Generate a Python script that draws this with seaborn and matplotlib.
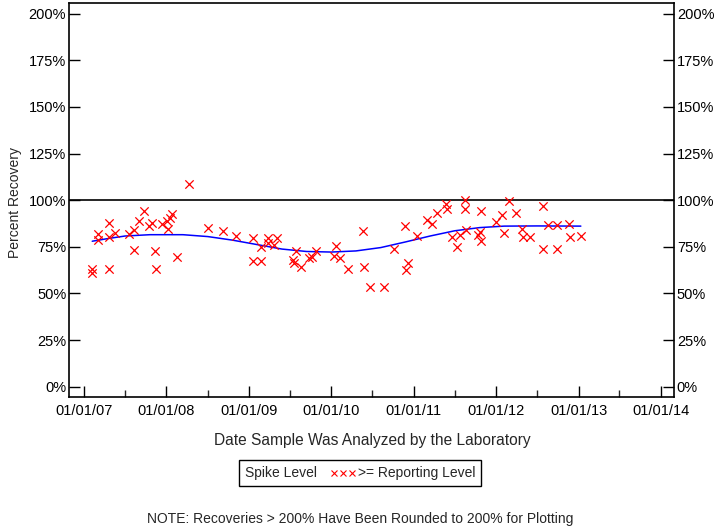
import pandas as pd
import matplotlib
matplotlib.use("Agg")
import matplotlib.pyplot as plt
import matplotlib.dates as mdates
from matplotlib.lines import Line2D
from matplotlib.offsetbox import TextArea, DrawingArea, HPacker, AnchoredOffsetbox
import seaborn as sns

# Spike recoveries
sample_dates = [
    "2007-02-06", "2007-02-07", "2007-03-04", "2007-03-02", "2007-04-20", "2007-04-23",
    "2007-04-21", "2007-05-16", "2007-07-17", "2007-08-08", "2007-08-11", "2007-09-02",
    "2007-09-24", "2007-10-16", "2007-10-30", "2007-11-13", "2007-11-14", "2007-12-13",
    "2008-01-05", "2008-01-06", "2008-01-15", "2008-01-26", "2008-02-17", "2008-04-12",
    "2008-07-05", "2008-09-09", "2008-11-06", "2009-01-19", "2009-01-20", "2009-02-24",
    "2009-02-25", "2009-03-25", "2009-03-26", "2009-05-05", "2009-04-23", "2009-07-13",
    "2009-07-20", "2009-07-27", "2009-08-18", "2009-09-24", "2009-10-08", "2009-10-26",
    "2010-01-12", "2010-01-23", "2010-02-10", "2010-03-15", "2010-05-23", "2010-05-24",
    "2010-06-21", "2010-08-22", "2010-10-05", "2010-11-25", "2010-12-06", "2010-11-26",
    "2011-01-15", "2011-02-28", "2011-03-25", "2011-04-16", "2011-05-26", "2011-05-27",
    "2011-06-21", "2011-07-13", "2011-07-24", "2011-08-15", "2011-08-16", "2011-08-19",
    "2011-10-12", "2011-10-23", "2011-10-27", "2011-10-26", "2012-01-01", "2012-01-26",
    "2012-02-06", "2012-02-28", "2012-03-28", "2012-04-27", "2012-04-28", "2012-05-30",
    "2012-07-27", "2012-08-18", "2012-09-27", "2012-11-21", "2012-11-22", "2013-01-11",
    "2012-07-26", "2012-09-28",
]
recovery = [
    63.1, 61.0, 82.1, 78.9, 87.7, 80.4,
    63.1, 82.3, 82.1, 83.9, 73.3, 88.7,
    94.3, 85.9, 87.7, 72.7, 62.9, 87.1,
    88.9, 84.8, 90.2, 92.5, 69.3, 108.5,
    85.0, 83.4, 80.7, 79.7, 67.4, 67.4,
    75.0, 79.7, 77.3, 79.7, 75.9, 67.9,
    66.5, 72.9, 64.3, 69.0, 69.3, 72.9,
    70.2, 75.4, 69.0, 63.1, 83.4, 64.0,
    53.7, 53.7, 74.1, 86.1, 66.1, 62.6,
    80.7, 89.3, 87.1, 93.0, 97.8, 95.5,
    80.0, 74.7, 81.4, 100.1, 95.2, 83.9,
    81.4, 83.2, 78.2, 94.1, 88.2, 92.1,
    82.5, 99.4, 93.0, 84.5, 80.0, 80.0,
    96.8, 86.8, 86.8, 87.1, 80.2, 80.7,
    73.8, 73.8,
]

# Smoothed trend line
trend_dates = [
    "2007-02-06", "2007-04-20", "2007-07-02", "2007-10-20", "2008-03-14", "2008-07-02",
    "2008-10-19", "2009-02-06", "2009-05-27", "2009-09-13", "2010-01-01", "2010-04-20",
    "2010-08-08", "2010-11-25", "2011-03-15", "2011-07-02", "2011-10-20", "2012-02-06",
    "2012-07-02", "2013-01-11",
]
trend_values = [
    78.0, 79.5, 80.8, 81.5, 81.5, 80.5,
    78.6, 76.2, 73.8, 72.5, 72.2, 72.8,
    74.6, 77.6, 80.8, 83.6, 85.3, 86.1,
    86.2, 86.1,
]

y_ticks = [0, 25, 50, 75, 100, 125, 150, 175, 200]

df = pd.DataFrame({"date": pd.to_datetime(sample_dates), "recovery": recovery})
trend = pd.DataFrame({"date": pd.to_datetime(trend_dates), "value": trend_values})

sns.set_style("ticks")
plt.rcParams["font.family"] = ["Liberation Sans", "DejaVu Sans"]

fig = plt.figure(figsize=(7.2, 5.28), dpi=100)
ax = fig.add_axes([69 / 720, 1 - 397 / 528, (674 - 69) / 720, (397 - 3) / 528])

ax.axhline(100, color="black", lw=1.2, zorder=1)
sns.lineplot(data=trend, x="date", y="value", color="blue", lw=1.1, ax=ax, zorder=2)
sns.scatterplot(data=df, x="date", y="recovery", marker="x", color="red",
                s=36, linewidth=0.9, ax=ax, zorder=3)

ax.set_xlim(pd.Timestamp("2006-10-26"), pd.Timestamp("2014-02-28"))
ax.set_ylim(-5.5, 205.7)
ax.xaxis.set_major_locator(mdates.YearLocator())
ax.xaxis.set_minor_locator(mdates.MonthLocator(bymonth=[7]))
ax.xaxis.set_major_formatter(mdates.DateFormatter("%m/%d/%y"))
ax.set_yticks(y_ticks)
ax.set_yticklabels([f"{t}%" for t in y_ticks])

ax.tick_params(axis="both", which="major", direction="in", length=8, width=1,
               labelsize=10.5, colors="black")
ax.tick_params(axis="x", which="minor", direction="in", length=5, width=1)
ax.tick_params(axis="y", right=True, labelright=True, pad=2)
ax.tick_params(axis="x", pad=5)
for sp in ax.spines.values():
    sp.set_visible(True)
    sp.set_color("black")
    sp.set_linewidth(1.2)

ax.set_xlabel("")
ax.set_ylabel("")
fig.text(372 / 720, 1 - 440 / 528, "Date Sample Was Analyzed by the Laboratory",
         ha="center", va="center", fontsize=11.2)
fig.text(15 / 720, 1 - 202 / 528, "Percent Recovery", rotation=90,
         ha="center", va="center", fontsize=10)

# legend box: "Spike Level  xxx >= Reporting Level" (DrawingArea units are points)
glyph = DrawingArea(29.5, 8, 0, 0)
glyph.add_artist(Line2D([12.6, 18.9, 25.2], [4, 4, 4], ls="none", marker="x",
                        color="red", markersize=5, markeredgewidth=0.8))
row = HPacker(children=[TextArea("Spike Level", textprops=dict(size=10)),
                        glyph,
                        TextArea(">= Reporting Level", textprops=dict(size=10))],
              align="center", pad=0, sep=0)
box = AnchoredOffsetbox(loc="center", child=row, pad=0.45, borderpad=0,
                        frameon=True, bbox_to_anchor=(0.5, 1 - 473 / 528),
                        bbox_transform=fig.transFigure)
box.patch.set_edgecolor("black")
box.patch.set_linewidth(1.0)
fig.add_artist(box)

fig.text(0.5, 1 - 519 / 528,
         "NOTE: Recoveries > 200% Have Been Rounded to 200% for Plotting",
         ha="center", va="center", fontsize=10)

fig.savefig("out.png", dpi=100)
